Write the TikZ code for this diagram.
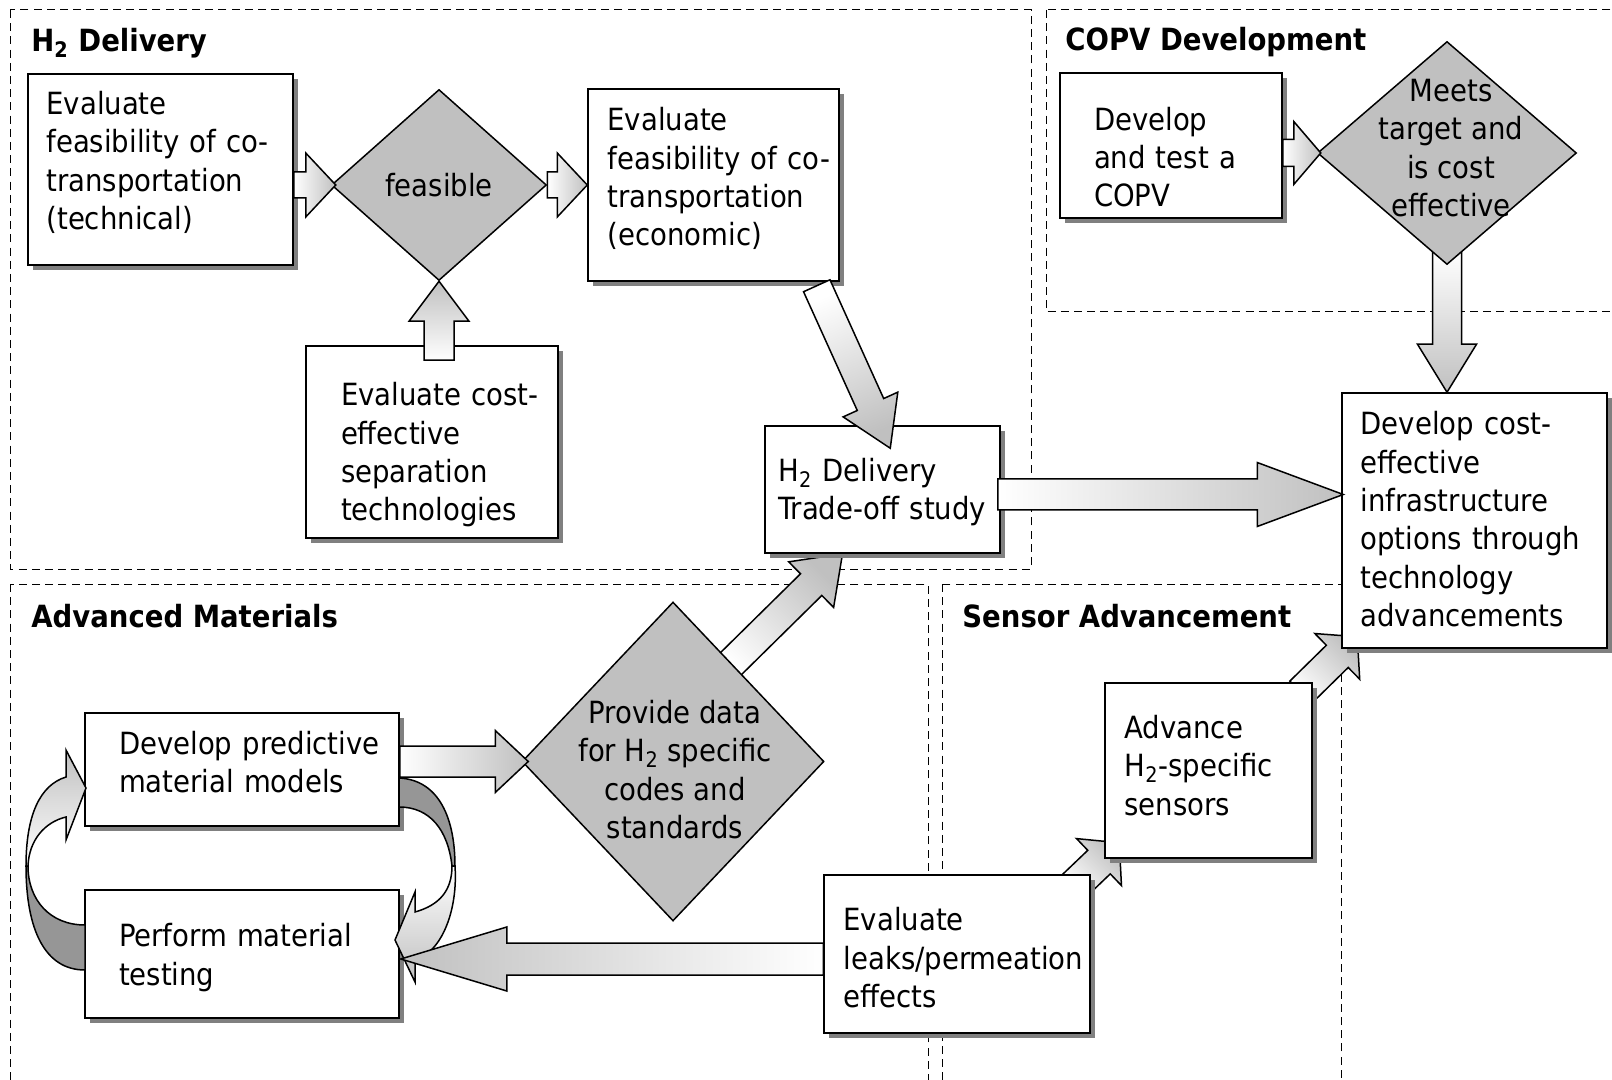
\documentclass[tikz,border=0pt]{standalone}
\usepackage{fontspec}
\setmainfont{DejaVu Sans Condensed}
\usepackage{xcolor}
\usepackage{tikz}
\usetikzlibrary{backgrounds}
\usetikzlibrary{calc}
\usetikzlibrary{shapes.geometric}
\usetikzlibrary{shadows}
\definecolor{diagray}{RGB}{192,192,192}
\definecolor{shadowgray}{RGB}{128,128,128}
\definecolor{loopgray}{RGB}{150,150,150}
\hyphenpenalty=10000
\exhyphenpenalty=10000
\tikzset{
  Region/.style={draw, line width=.5pt, dash pattern=on 4pt off 2.6pt}, % Bereiche
  Title/.style={anchor=base west, inner sep=0pt, font=\bfseries\fontsize{15.3}{19.2}\selectfont},
  Box/.style={draw, line width=.75pt, fill=white, align=left, inner ysep=2pt,
    general shadow={fill=shadowgray, shadow xshift=2.5pt, shadow yshift=-2.5pt}},
  Decision/.style={diamond, draw, line width=.75pt, fill=diagray, inner sep=0pt},
  BArrow/.style={draw, line width=.75pt, top color=white, bottom color=diagray, shading angle=#1}, % Blockpfeil
  Loop/.style={draw, line width=.75pt}
}
% tail, tip, shaft half width, head half width, head length, shading angle
\newcommand{\BlockArrow}[6]{%
  \coordinate (BAh) at ($(#2)!#5!(#1)$);
  \draw[BArrow=#6] ($(#1)!#3!90:(#2)$) -- ($(BAh)!#3!-90:(#1)$) -- ($(BAh)!#4!-90:(#1)$) -- (#2)
    -- ($(BAh)!#4!90:(#1)$) -- ($(BAh)!#3!90:(#1)$) -- ($(#1)!#3!-90:(#2)$) -- cycle;
}
% Hoehe der ersten / Tiefe der letzten Zeile
\newcommand{\TopStrut}[1]{\rule{0pt}{#1}}
\newcommand{\BotStrut}[1]{\rule[-#1]{0pt}{0pt}}

\begin{document}
\begin{tikzpicture}[x=.5pt, y=-.5pt, font=\fontsize{15.3}{19.2}\selectfont]
\useasboundingbox (0,0) rectangle (1612,1080);

%Bereiche
\begin{scope}[on background layer]
\draw[Region] (10,10) rectangle (1031,569);
\draw[Region] (1046,10) rectangle (1640,312);
\draw[Region] (10,584) rectangle (928,1100);
\draw[Region] (942,584) rectangle (1341,1100);
\end{scope}
\node[Title] (TDelivery) at (31,52) {H\textsubscript{2} Delivery};
\node[Title] (TCOPV) at (1065,51) {COPV Development};
\node[Title] (TMaterials) at (31,627) {Advanced Materials};
\node[Title] (TSensor) at (962,627) {Sensor Advancement};

%Kaesten
\node[Box, inner xsep=9.3pt, text width=114pt, minimum height=95.5pt] (TechFeas) at (160.5,169.5)
  {\TopStrut{12pt}Evaluate\\ feasibility~of~co-\\ transportation\\ (technical)\BotStrut{9.6pt}};
\node[Box, inner xsep=9.8pt, text width=105.9pt, minimum height=96pt] (EconFeas) at (713.5,185)
  {\TopStrut{12pt}Evaluate\\ feasibility~of~co-\\ transportation\\ (economic)\BotStrut{8.7pt}};
\node[Box, inner xsep=17.5pt, text width=91pt, minimum height=96pt] (Separation) at (432,442)
  {\TopStrut{25.3pt}Evaluate~cost-\\ effective\\ separation\\ technologies\BotStrut{4pt}};
\node[Box, inner xsep=6.7pt, text width=104.1pt, minimum height=63.5pt] (TradeOff) at (882.5,489.5)
  {\TopStrut{15.3pt}H\textsubscript{2}~Delivery\\ Trade-off~study\BotStrut{4pt}};
\node[Box, inner xsep=17pt, text width=77pt, minimum height=72.5pt] (COPV) at (1171,145.5)
  {\TopStrut{23.3pt}Develop\\ and~test~a\\ COPV\BotStrut{0pt}};
\node[Box, inner xsep=9.3pt, text width=113.9pt, minimum height=127.5pt] (Infra) at (1474.5,520.5)
  {\TopStrut{14.2pt}Develop~cost-\\ effective\\ infrastructure\\ options~through\\ technology\\ advancements\BotStrut{4pt}};
\node[Box, inner xsep=17pt, text width=123pt, minimum height=56.5pt] (Models) at (242,769.5)
  {\TopStrut{12pt}Develop~predictive\\ material~models\BotStrut{8.2pt}};
\node[Box, inner xsep=17pt, text width=123pt, minimum height=64pt] (Testing) at (242,954)
  {\TopStrut{16pt}Perform~material\\ testing\BotStrut{4pt}};
\node[Box, inner xsep=9.8pt, text width=113.4pt, minimum height=79pt] (Leaks) at (957,954)
  {\TopStrut{19.1pt}Evaluate\\ leaks/permeation\\ effects\BotStrut{4pt}};
\node[Box, inner xsep=9.8pt, text width=83.9pt, minimum height=87.5pt] (Sensors) at (1208.5,770.5)
  {\TopStrut{12pt}Advance\\ H\textsubscript{2}-specific\\ sensors\BotStrut{5.6pt}};

%Rauten
\node[Decision, minimum width=107.5pt, minimum height=95.5pt,
  label={[align=center]center:feasible}] (Feasible) at (439,185) {};
\node[Decision, minimum width=129.5pt, minimum height=111.5pt,
  label={[align=center, xshift=2pt, yshift=2.5pt]center:Meets\\target and\\is cost\\effective}] (Meets) at (1447,153) {};
\node[Decision, minimum width=151pt, minimum height=159.5pt,
  label={[align=center, xshift=1pt, yshift=-4pt]center:Provide data\\for H\textsubscript{2} specific\\codes and\\standards}] (Provide) at (673,761.5) {};

%Pfeile
\coordinate (a1) at (TechFeas.east |- Feasible.west);
\coordinate (a2) at ($(Feasible.west)+(5,0)$);
\coordinate (b1) at (Feasible.east);
\coordinate (b2) at (EconFeas.west |- Feasible.east);
\coordinate (c1) at ($(Feasible.south |- Separation.north)+(0,15)$);
\coordinate (c2) at (Feasible.south);
\coordinate (d1) at ($(EconFeas.south east)+(-23,4)$);
\coordinate (d2) at ($(TradeOff.north west)+(126,23)$);
\coordinate (e1) at ($(TradeOff.east)+(-3,5)$);
\coordinate (e2) at ($(Infra.west |- e1)+(2,0)$);
\coordinate (f1) at ($(Meets.south)+(0,-15)$);
\coordinate (f2) at (Meets.south |- Infra.north);
\coordinate (g1) at (COPV.east |- Meets.west);
\coordinate (g2) at ($(Meets.west)+(4,0)$);
\coordinate (h1) at (Models.east |- Provide.west);
\coordinate (h2) at ($(Provide.west)+(7,0)$);
\coordinate (i1) at ($(Provide.center)+(50,-90)$);
\coordinate (i2) at ($(TradeOff.south)+(-40,0)$);
\coordinate (j1) at ($(Leaks.west)+(0,5)$);
\coordinate (j2) at ($(Testing.east)+(1,5)$);
\coordinate (k1) at ($(Leaks.north east)+(-17,12)$);
\coordinate (k2) at ($(Sensors.south west)+(15,-16)$);
\coordinate (l1) at ($(Sensors.north east)+(-12,10)$);
\coordinate (l2) at ($(Infra.south west)+(16,-12)$);

\begin{scope}[on background layer]
\BlockArrow{f1}{f2}{7.25pt}{14.75pt}{24pt}{0}
\BlockArrow{i1}{i2}{7.6pt}{16pt}{22pt}{135}
\BlockArrow{k1}{k2}{8.15pt}{16.25pt}{14pt}{135}
\BlockArrow{l1}{l2}{7.8pt}{16pt}{14pt}{135}
\end{scope}
\BlockArrow{a1}{a2}{6.5pt}{16pt}{15pt}{90}
\BlockArrow{b1}{b2}{6.5pt}{16pt}{15pt}{90}
\BlockArrow{c1}{c2}{7.5pt}{15pt}{20pt}{180}
\BlockArrow{d1}{d2}{7.25pt}{15pt}{24pt}{24}
\BlockArrow{e1}{e2}{7.75pt}{16pt}{43pt}{90}
\BlockArrow{g1}{g2}{6.75pt}{15.75pt}{13.5pt}{90}
\BlockArrow{h1}{h2}{7.75pt}{15.5pt}{16.5pt}{90}

%Schleife
\draw[Loop, fill=loopgray] (85,925) .. controls (50,925) and (28,900) .. (28,866)
  -- (26,866) .. controls (26,930) and (45,970) .. (85,970) -- cycle;
\draw[Loop, top color=diagray, bottom color=white] (26,866) .. controls (26,815) and (40,785) .. (66,777)
  -- (66,750) -- (86,788) -- (66,840) -- (66,817) .. controls (45,822) and (29,840) .. (28,866) -- cycle;
\draw[Loop, fill=loopgray] (399,778) .. controls (440,780) and (455,820) .. (455,866)
  -- (452,866) .. controls (448,830) and (430,807) .. (399,807) -- cycle;
\draw[Loop, top color=white, bottom color=diagray] (455,866) .. controls (458,910) and (442,952) .. (415,960)
  -- (415,982) -- (395,940) -- (415,892) -- (415,912) .. controls (440,905) and (452,890) .. (452,866) -- cycle;

\BlockArrow{j1}{j2}{8pt}{16pt}{53pt}{270}
\end{tikzpicture}
\end{document}
